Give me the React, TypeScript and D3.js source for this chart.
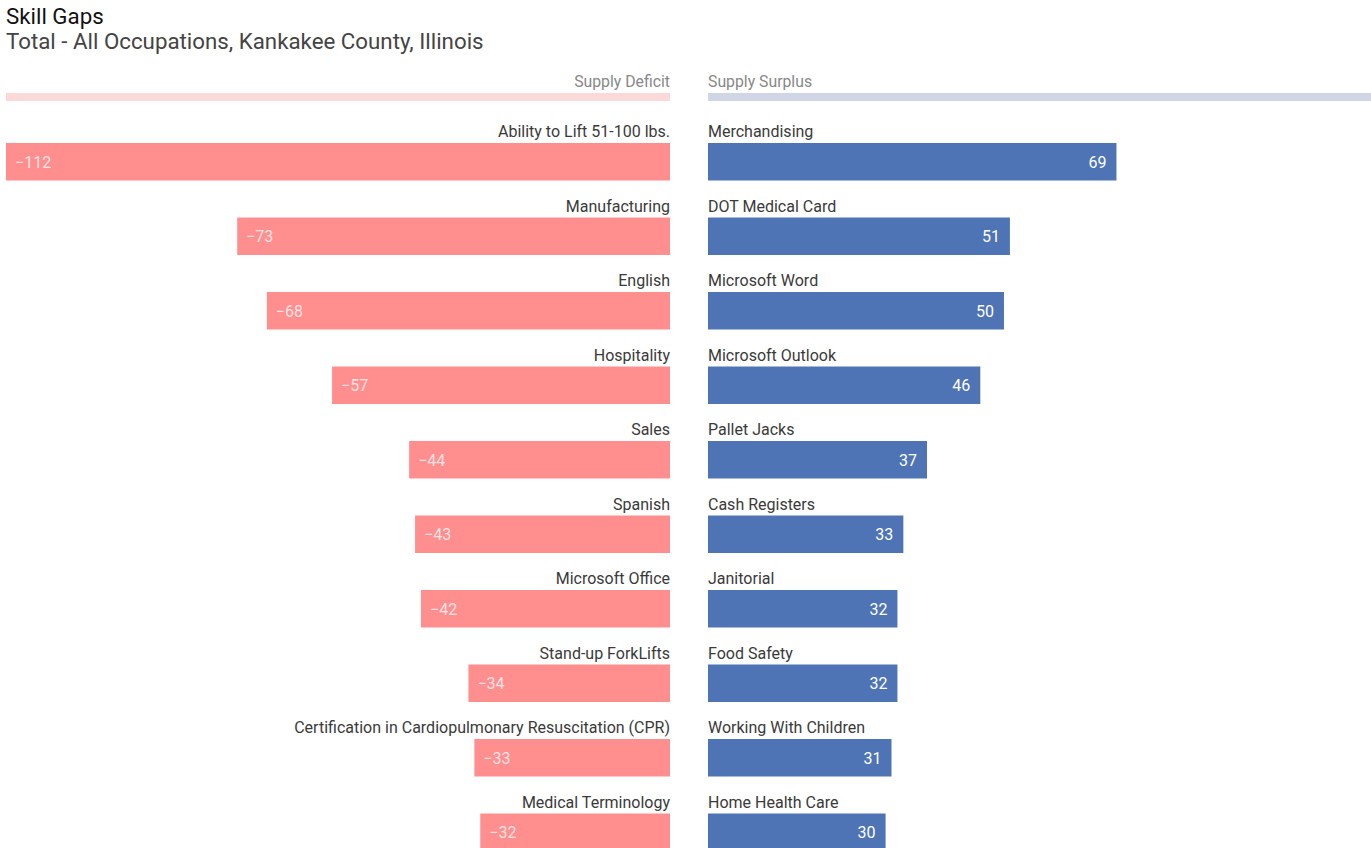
import React from "react";
import * as d3 from "d3";

const deficitSkills = [
  "Ability to Lift 51-100 lbs.",
  "Manufacturing",
  "English",
  "Hospitality",
  "Sales",
  "Spanish",
  "Microsoft Office",
  "Stand-up ForkLifts",
  "Certification in Cardiopulmonary Resuscitation (CPR)",
  "Medical Terminology",
];
const deficitValues = [-112, -73, -68, -57, -44, -43, -42, -34, -33, -32];

const surplusSkills = [
  "Merchandising",
  "DOT Medical Card",
  "Microsoft Word",
  "Microsoft Outlook",
  "Pallet Jacks",
  "Cash Registers",
  "Janitorial",
  "Food Safety",
  "Working With Children",
  "Home Health Care",
];
const surplusValues = [69, 51, 50, 46, 37, 33, 32, 32, 31, 30];

const title = "Skill Gaps";
const subtitle = "Total - All Occupations, Kankakee County, Illinois";
const headerLeft = "Supply Deficit";
const headerRight = "Supply Surplus";

const W = 1371;
const H = 848;
const FONT = "Roboto, 'Noto Sans', sans-serif";

export default function App() {
  const maxAbs = 112;
  const xLeft = d3.scaleLinear().domain([0, maxAbs]).range([670, 6]);
  const xRight = d3.scaleLinear().domain([0, maxAbs]).range([708, 1371]);
  const rows = d3.range(deficitValues.length);
  const y = d3
    .scaleBand<number>()
    .domain(rows)
    .range([112, 112 + 74.5 * rows.length])
    .paddingInner(0)
    .paddingOuter(0);
  const fmt = (v: number) => (v < 0 ? "\u2212" + Math.abs(v) : String(v));
  const barTop = (i: number) => (y(i) as number) + 31;
  const barH = 37.5;

  return (
    <svg
      width={W}
      height={H}
      style={{ position: "absolute", left: 0, top: 0, background: "#fff" }}
      fontFamily={FONT}
    >
      <text x={6} y={24} fontSize={22.3} fill="#111">
        {title}
      </text>
      <text x={6} y={49} fontSize={22.3} fill="#444">
        {subtitle}
      </text>
      <text x={670} y={87} fontSize={15.8} fill="#888" textAnchor="end">
        {headerLeft}
      </text>
      <text x={708} y={87} fontSize={15.8} fill="#888">
        {headerRight}
      </text>
      <rect x={6} y={93} width={670 - 6} height={8} fill="#fbd9d9" />
      <rect x={708} y={93} width={W - 708} height={8} fill="#d1d6e7" />
      {rows.map((i) => {
        const dv = deficitValues[i];
        const sv = surplusValues[i];
        const top = barTop(i);
        const lx = xLeft(Math.abs(dv));
        const rx = xRight(sv);
        return (
          <g key={i}>
            <text x={670} y={top - 6} fontSize={16} fill="#3a3a3a" textAnchor="end">
              {deficitSkills[i]}
            </text>
            <text x={708} y={top - 6} fontSize={16} fill="#3a3a3a">
              {surplusSkills[i]}
            </text>
            <rect x={lx} y={top} width={670 - lx} height={barH} fill="#ff8f8f" />
            <rect x={708} y={top} width={rx - 708} height={barH} fill="#4e74b5" />
            <text
              x={lx + 9}
              y={top + barH / 2 + 6}
              fontSize={16}
              fill="#fff"
              fillOpacity={0.75}
            >
              {fmt(dv)}
            </text>
            <text
              x={rx - 10}
              y={top + barH / 2 + 6}
              fontSize={16}
              fill="#fff"
              textAnchor="end"
            >
              {fmt(sv)}
            </text>
          </g>
        );
      })}
    </svg>
  );
}
